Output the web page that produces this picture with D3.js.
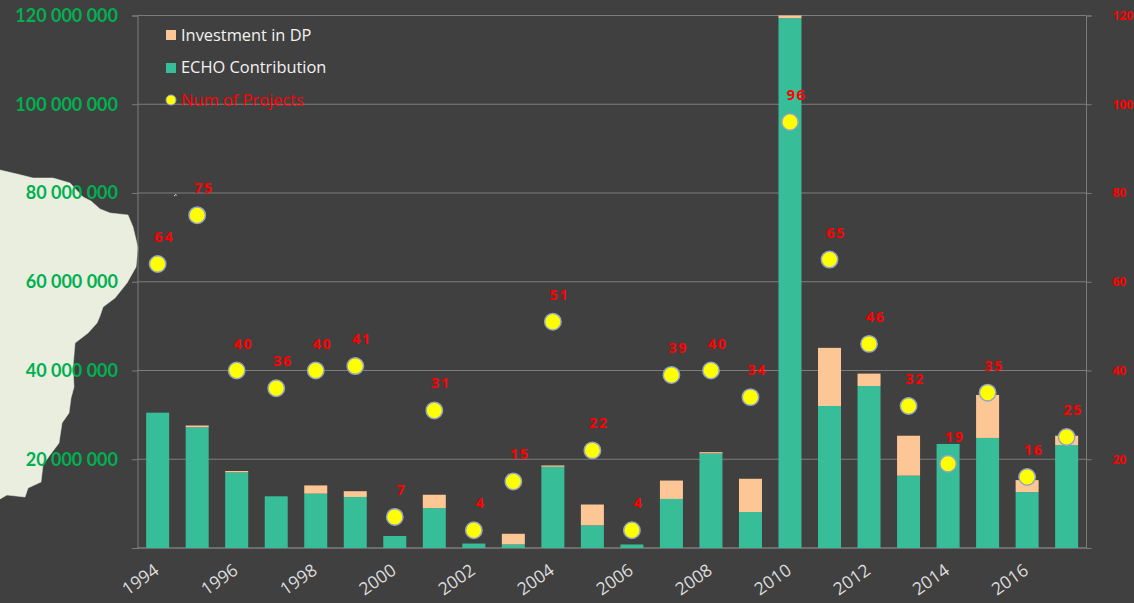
<!DOCTYPE html>
<html>
<head>
<meta charset="utf-8">
<script src="https://cdn.jsdelivr.net/npm/d3@7"></script>
<style>
    html, body { margin: 0; padding: 0; background: #404040; }
    svg { display: block; }
</style>
</head>
<body>
<svg width="1134" height="603"></svg>
<script>
const years = [1994, 1995, 1996, 1997, 1998, 1999, 2000, 2001, 2002, 2003, 2004, 2005,
    2006, 2007, 2008, 2009, 2010, 2011, 2012, 2013, 2014, 2015, 2016, 2017];
// millions of euro
const echoContribution = [30.5, 27.2, 17.05, 11.65, 12.25, 11.5, 2.7, 9.0, 1.0, 0.8, 18.3, 5.1,
    0.8, 11.05, 21.3, 8.1, 119.4, 32.0, 36.5, 16.3, 23.45, 24.8, 12.6, 23.2];
const investmentDP = [0, 0.4, 0.3, 0, 1.85, 1.3, 0, 3.0, 0, 2.4, 0.3, 4.7,
    0, 4.15, 0.3, 7.5, 0.6, 13.1, 2.8, 9.0, 0, 9.7, 2.7, 2.1];
const numProjects = [64, 75, 40, 36, 40, 41, 7, 31, 4, 15, 51, 22,
    4, 39, 40, 34, 96, 65, 46, 32, 19, 35, 16, 25];
const leftTicks = [0, 20, 40, 60, 80, 100, 120];
const rightTicks = [20, 40, 60, 80, 100, 120];
const yearTicks = [1994, 1996, 1998, 2000, 2002, 2004, 2006, 2008, 2010, 2012, 2014, 2016];

// torn map edge behind the left axis labels, only decoration
const mapEdge = [[0, 170], [17, 174], [33, 178], [53, 178], [70, 183], [83, 197], [91, 201], [100, 209],
    [110, 213], [128, 215], [133, 227], [138, 248], [136, 267], [127, 283], [115, 298], [103, 307], [100, 316],
    [97, 323], [88, 333], [75, 343], [73, 367], [74, 387], [71, 398], [69, 413], [62, 423], [59, 443],
    [50, 455], [43, 465], [41, 482], [28, 488], [25, 497], [7, 495], [0, 499]];

const colors = { bg: "#404040", grid: "#7c7c7c", echo: "#38bd99", dp: "#fdc795", green: "#00b050", red: "#ff0000" };
const attr_area = { left: 137.5, right: 1086, top: 15.5, bottom: 548 };

const svg = d3.select("svg");

svg.append("path")
    .attr("d", d3.line()(mapEdge) + "Z")
    .attr("fill", "#eaeedf")
    .attr("stroke", "#eaeedf")
    .attr("stroke-width", 0.5);

// small speck left over from the map
svg.append("path")
    .attr("d", d3.line()([[174, 196], [176, 194.5], [176.5, 195.5]]))
    .attr("fill", "none")
    .attr("stroke", "#d8d8d8");

const scaleX = d3.scaleBand()
    .domain(years)
    .range([attr_area.left, attr_area.right])
    .paddingInner(0.418)
    .paddingOuter(0.209);

const scaleY = d3.scaleLinear()
    .domain([0, 120])
    .range([attr_area.bottom, attr_area.top]);

function drawAxes() {
    const axisL = d3.axisLeft(scaleY)
        .tickValues(leftTicks)
        .tickSize(5.5)
        .tickPadding(14)
        .tickFormat(d => d === 0 ? "" : d + " 000 000");

    const gL = svg.append("g")
        .attr("transform", `translate(${attr_area.left}, 0)`)
        .call(axisL);
    gL.selectAll("text")
        .attr("fill", colors.green)
        .style("font", "bold 18px Lato");
    gL.selectAll("line").attr("stroke", colors.grid);
    gL.select(".domain").attr("stroke", colors.grid);

    const axisR = d3.axisRight(scaleY)
        .tickValues(rightTicks)
        .tickSize(5.5)
        .tickPadding(21)
        .tickFormat(d => d);

    const gR = svg.append("g")
        .attr("transform", `translate(${attr_area.right}, 0)`)
        .call(axisR);
    gR.selectAll("text")
        .attr("fill", colors.red)
        .style("font", "bold 12px 'Noto Sans'");
    gR.selectAll("line").attr("stroke", colors.grid);
    gR.select(".domain").attr("stroke", colors.grid);

    svg.append("g")
        .selectAll("line")
        .data(leftTicks)
        .enter()
        .append("line")
        .attr("x1", attr_area.left)
        .attr("x2", attr_area.right)
        .attr("y1", d => scaleY(d))
        .attr("y2", d => scaleY(d))
        .attr("stroke", colors.grid)
        .attr("stroke-width", d => d === 0 ? 1.5 : 1);

    const axisB = d3.axisBottom(scaleX)
        .tickValues(yearTicks)
        .tickSize(0)
        .tickFormat(d => d);

    const gB = svg.append("g")
        .attr("transform", `translate(0, ${attr_area.bottom})`)
        .call(axisB);
    gB.select(".domain").remove();
    gB.selectAll("text")
        .attr("fill", "#dcdcdc")
        .style("font", "17.5px 'Open Sans'")
        .style("text-anchor", "end")
        .attr("dy", 0)
        .attr("y", 0)
        .attr("transform", "translate(3, 25) rotate(-35)");
}

function drawBars() {
    const rows = years.map((y, i) => ({ year: y, echo: echoContribution[i], dp: investmentDP[i] }));
    const stacked = d3.stack().keys(["echo", "dp"])(rows);
    const fill = { echo: colors.echo, dp: colors.dp };

    svg.append("g")
        .selectAll("g")
        .data(stacked)
        .enter()
        .append("g")
        .attr("fill", d => fill[d.key])
        .selectAll("rect")
        .data(d => d)
        .enter()
        .append("rect")
        .attr("x", d => scaleX(d.data.year) + 0.4)
        .attr("y", d => scaleY(d[1]))
        .attr("width", scaleX.bandwidth())
        .attr("height", d => scaleY(d[0]) - scaleY(d[1]));
}

function drawPoints() {
    const cx = (d, i) => scaleX(years[i]) + scaleX.bandwidth() / 2 + 0.4;

    svg.append("g")
        .selectAll("circle")
        .data(numProjects)
        .enter()
        .append("circle")
        .attr("cx", cx)
        .attr("cy", d => scaleY(d))
        .attr("r", 8.2)
        .attr("fill", "#ffff00")
        .attr("stroke", "#93a5c4")
        .attr("stroke-width", 1.5);

    svg.append("g")
        .selectAll("text")
        .data(numProjects)
        .enter()
        .append("text")
        .attr("x", (d, i) => cx(d, i) + 6.5)
        .attr("y", d => scaleY(d) - 22)
        .attr("text-anchor", "middle")
        .attr("fill", colors.red)
        .style("font", "bold 14.5px 'Noto Sans'")
        .style("letter-spacing", "1.5px")
        .text(d => d);
}

function drawLegend() {
    const g = svg.append("g");
    g.append("rect").attr("x", 166).attr("y", 30).attr("width", 10).attr("height", 10).attr("fill", colors.dp);
    g.append("rect").attr("x", 166).attr("y", 63).attr("width", 10).attr("height", 10).attr("fill", colors.echo);
    g.append("circle").attr("cx", 171).attr("cy", 100).attr("r", 5)
        .attr("fill", "#ffff00").attr("stroke", "#93a5c4");

    const items = [
        { label: "Investment in DP", y: 41, color: "#f2f2f2" },
        { label: "ECHO Contribution", y: 73, color: "#f2f2f2" },
        { label: "Num of Projects", y: 106, color: colors.red }
    ];
    g.selectAll("text")
        .data(items)
        .enter()
        .append("text")
        .attr("x", 181)
        .attr("y", d => d.y)
        .attr("fill", d => d.color)
        .style("font", "16.4px 'Open Sans'")
        .text(d => d.label);
}

drawAxes();
drawBars();
drawPoints();
drawLegend();
</script>
</body>
</html>
